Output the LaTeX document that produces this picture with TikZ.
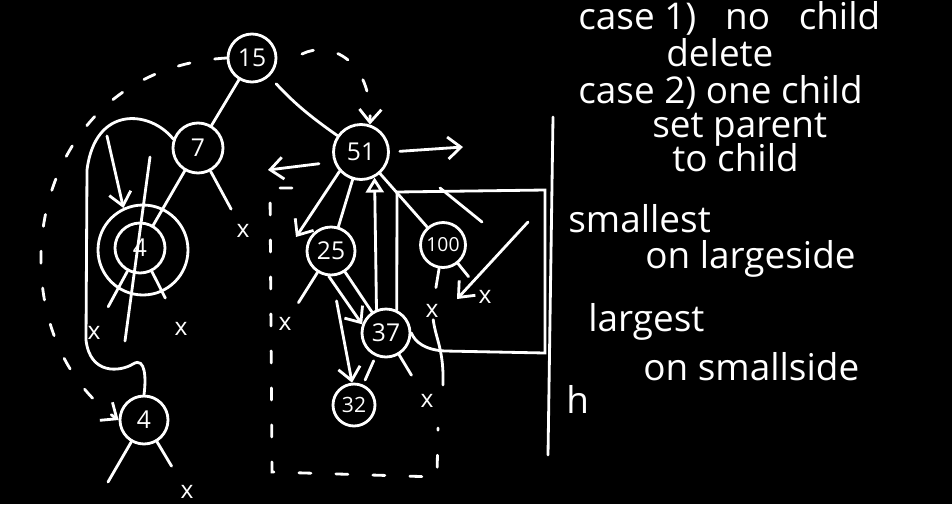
\documentclass[tikz,border=0pt]{standalone}
\usepackage{fontspec}
\setmainfont{Open Sans}
\usepackage{tikz}
\usetikzlibrary{arrows.meta}

\begin{document}
\begin{tikzpicture}[
  x=0.02cm, y=-0.02cm,
  knot/.style={circle, draw=white, line width=1.6pt, text=white, inner sep=0pt, minimum size=9.6mm, font=\fontsize{14}{14}\selectfont},
  nil/.style={text=white, inner sep=1pt, font=\fontsize{14}{14}\selectfont},
  edge/.style={white, line width=1.6pt, line cap=round},
  arr/.style={edge, -{Straight Barb[length=2.6mm, width=4.4mm, line width=1.6pt]}},
  uparr/.style={edge, -{Triangle[open, length=3mm, width=3.6mm, line width=1.6pt]}},
  ghost/.style={edge, dash pattern=on 2.4mm off 5mm},
  note/.style={text=white, anchor=base west, inner sep=0pt, font=\fontsize{21}{21}\selectfont}
]
\path[use as bounding box, fill=black] (0,0) rectangle (952,504);

\node[knot] (k15) at (252,58) {15};
\node[knot, minimum size=10mm] (k7) at (198,148) {7};
\node[knot, minimum size=10mm] (k4) at (140,248) {4};
\node[knot, minimum size=18mm] (ring) at (143,250) {};
\node[knot, minimum size=11mm] (k51) at (361,152) {51};
\node[knot] (k25) at (331,251) {25};
\node[knot, minimum size=9mm, font=\fontsize{11}{11}\selectfont] (k100) at (443,245) {100};
\node[knot] (k37) at (386,333) {37};
\node[knot, minimum size=8.4mm, font=\fontsize{12}{12}\selectfont] (k32) at (354,405) {32};
\node[knot] (k4b) at (144,420) {4};

\node[nil] (n7r) at (243,231) {x};
\node[nil] (n4l) at (94,333) {x};
\node[nil] (n4r) at (181,329) {x};
\node[nil] (n4br) at (187,492) {x};
\node[nil] (n25l) at (285,324) {x};
\node[nil] (n37r) at (427,401) {x};
\node[nil] (n100l) at (432,311) {x};
\node[nil] (n100r) at (485,297) {x};

\coordinate (hop) at (302,54);
\coordinate (goleft) at (268,170);
\coordinate (goright) at (463,147);
\coordinate (godown) at (296,237);
\coordinate (poke) at (107,136);
\coordinate (slashtop) at (150,157);
\coordinate (slashbot) at (125,341);
\coordinate (c4bl) at (108,482);
\coordinate (tail) at (443,385);
\coordinate (swoop) at (528,222);
\coordinate (swoopend) at (457,299);
\coordinate (hatchtop) at (440,188);
\coordinate (hatchbot) at (482,222);
\coordinate (boxnw) at (397,192);
\coordinate (boxne) at (545,190);
\coordinate (boxse) at (545,353);
\coordinate (wallt) at (553,117);
\coordinate (wallb) at (548,455);

\draw[edge] (k15) -- (k7);
\draw[edge, shorten <=2mm] (k15) to[bend right=6] (k51);
\draw[edge] (k7) -- (k4);
\draw[edge, shorten >=3mm] (k7) -- (n7r);
\draw[edge, shorten >=4mm] (k4) -- (n4l);
\draw[edge, shorten >=5mm] (k4) -- (n4r);
\draw[arr] (poke) -- (ring.115);
\draw[edge] (slashtop) -- (slashbot);
\draw[edge] (k7.160) .. controls (150,110) and (95,105) .. (87,170) -- (86,340)
  .. controls (90,375) and (120,372) .. (133,364) .. controls (146,356) and (146,380) .. (k4b.north);
\draw[edge] (k4b) -- (c4bl);
\draw[edge, shorten >=4mm] (k4b) -- (n4br);

\draw[ghost, -{Straight Barb[length=2.6mm, width=4.4mm, line width=1.6pt]}] (k15.west) .. controls (20,70) and (-10,330) .. (k4b.west);
\draw[ghost, -{Straight Barb[length=2.6mm, width=4.4mm, line width=1.6pt]}] (hop) .. controls (330,40) and (372,60) .. (k51.72);

\draw[arr, shorten <=3mm] (k51.200) -- (goleft);
\draw[arr, shorten <=2mm] (k51.east) -- (goright);
\draw[arr] (k51.222) -- (godown);
\draw[edge] (k51) -- (k25);
\draw[edge] (k51) -- (k100);
\draw[edge] (k25) -- (k37);
\draw[arr] (k25.-95) -- (k37.160);
\draw[arr, shorten <=5mm] (k25.-88) -- (k32.95);
\draw[edge, shorten >=3mm] (k25) -- (n25l);
\draw[uparr] (k37.112) -- (k51.-62);
\draw[edge, shorten <=1mm, shorten >=1mm] (k37) -- (k32);
\draw[edge, shorten >=4mm] (k37) -- (n37r);
\draw[edge, shorten >=3mm] (k100) -- (n100l);
\draw[edge] (n100l) .. controls (436,340) and (444,350) .. (tail);
\draw[edge, shorten >=3mm] (k100) -- (n100r);
\draw[arr] (swoop) -- (swoopend);
\draw[edge] (hatchtop) -- (hatchbot);
\draw[edge] (k37.65) -- (boxnw) -- (boxne) -- (boxse) -- (445,351) .. controls (425,350) and (415,342) .. (k37.east);
\draw[edge] (wallt) -- (wallb);

\draw[ghost] (292,188) -- (270,188) -- (272,472) -- (437,477) -- (438,428);

\node[note] (case1) at (578,29) {case 1)\ \ \ no\ \ \ child};
\node[note] (del) at (666,66) {delete};
\node[note] (case2) at (578,103) {case 2) one child};
\node[note] (setpar) at (652,137) {set parent};
\node[note] (tochild) at (672,171) {to child};
\node[note] (small) at (568,232) {smallest};
\node[note] (onlarge) at (645,268) {on largeside};
\node[note] (large) at (588,331) {largest};
\node[note] (onsmall) at (643,380) {on smallside};
\node[note] (hnote) at (566,413) {h};
\end{tikzpicture}
\end{document}
